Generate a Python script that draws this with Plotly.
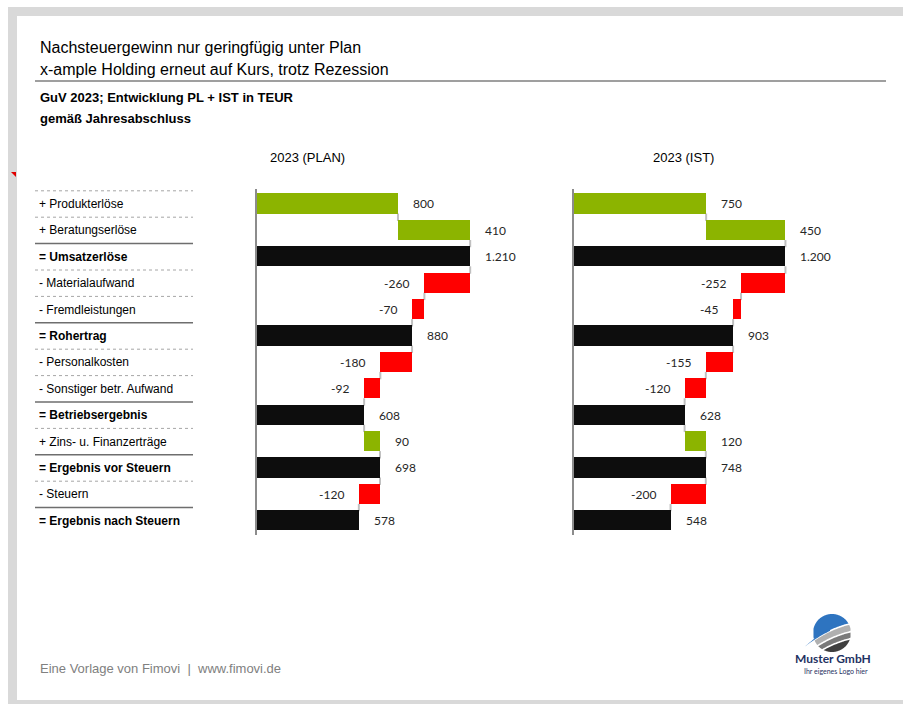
import numpy as np
import plotly.graph_objects as go

W, H = 903, 704

# ---- data -------------------------------------------------------------
row_labels = [
    "+ Produkterlöse", "+ Beratungserlöse", "= Umsatzerlöse",
    "- Materialaufwand", "- Fremdleistungen", "= Rohertrag",
    "- Personalkosten", "- Sonstiger betr. Aufwand", "= Betriebsergebnis",
    "+ Zins- u. Finanzerträge", "= Ergebnis vor Steuern", "- Steuern",
    "= Ergebnis nach Steuern",
]
row_kind = ["+", "+", "=", "-", "-", "=", "-", "-", "=", "+", "=", "-", "="]
plan_values = [800, 410, 1210, -260, -70, 880, -180, -92, 608, 90, 698, -120, 578]
ist_values = [750, 450, 1200, -252, -45, 903, -155, -120, 628, 120, 748, -200, 548]
panel_titles = ["2023 (PLAN)", "2023 (IST)"]

title_lines = ["Nachsteuergewinn nur geringfügig unter Plan",
               "x-ample Holding erneut auf Kurs, trotz Rezession"]
subtitle_lines = ["GuV 2023; Entwicklung PL + IST in TEUR", "gemäß Jahresabschluss"]
footer_text = "Eine Vorlage von Fimovi  |  www.fimovi.de"

# ---- styling ----------------------------------------------------------
GREEN, RED, BLACK = "#8cb400", "#ff0000", "#0d0d0d"
CONNECTOR = "#c0c0c0"
FRAME = "#d9d9d9"
ARIAL = "Liberation Sans, Arial, sans-serif"
NUMFONT = "Lato, Carlito, sans-serif"
BAR_W = 0.76
X_MAX = 1500


def px(x):
    return x / W


def py(y):
    return 1 - y / H


def fmt(v):
    return f"{v:,}".replace(",", ".")


def waterfall(values, kinds):
    bases, lengths, colors, ends = [], [], [], []
    running = 0
    for v, k in zip(values, kinds):
        if k == "=":
            bases.append(0)
            lengths.append(v)
            colors.append(BLACK)
            running = v
        else:
            bases.append(running)
            lengths.append(v)
            colors.append(GREEN if v >= 0 else RED)
            running += v
        ends.append(running)
    return bases, lengths, colors, ends


fig = go.Figure()
shapes, annotations = [], []
rows = list(range(len(row_labels)))

panels = [("x", "y", plan_values, 257), ("x2", "y2", ist_values, 574)]
scale = 0.1762  # pixels per TEUR
for (xa, ya, vals, x_left), ptitle in zip(panels, panel_titles):
    bases, lengths, colors, ends = waterfall(vals, row_kind)
    fig.add_trace(go.Bar(
        orientation="h", y=rows, x=lengths, base=bases, width=BAR_W,
        marker=dict(color=colors, line=dict(width=0)),
        xaxis=xa, yaxis=ya, hoverinfo="skip", showlegend=False,
    ))
    # connectors between consecutive bars
    for i in range(len(rows) - 1):
        shapes.append(dict(type="line", xref=xa, yref=ya,
                           x0=ends[i], x1=ends[i],
                           y0=i + BAR_W / 2 - 0.02, y1=i + 1 - BAR_W / 2 + 0.02,
                           line=dict(color=CONNECTOR, width=2), layer="below"))
    # value labels
    for i, (b, l, v) in enumerate(zip(bases, lengths, vals)):
        end = b + l
        if v < 0:
            annotations.append(dict(x=end, y=i, xref=xa, yref=ya, text=fmt(v),
                                    showarrow=False, xanchor="right", xshift=-13,
                                    font=dict(family=NUMFONT, size=12, color="#262626")))
        else:
            annotations.append(dict(x=end, y=i, xref=xa, yref=ya, text=fmt(v),
                                    showarrow=False, xanchor="left", xshift=13,
                                    font=dict(family=NUMFONT, size=12, color="#262626")))
    # panel heading
    annotations.append(dict(x=px(x_left + 50 if xa == "x" else x_left + 109), y=py(158),
                            xref="paper", yref="paper", text=ptitle, showarrow=False,
                            xanchor="center", yanchor="middle",
                            font=dict(family=ARIAL, size=13, color="#000000")))

# row labels and separator lines
for i, (lab, k) in enumerate(zip(row_labels, row_kind)):
    txt = f"<b>{lab}</b>" if k == "=" else lab
    annotations.append(dict(x=px(37), y=i, xref="paper", yref="y", text=txt,
                            showarrow=False, xanchor="left", yanchor="middle",
                            font=dict(family=ARIAL, size=12, color="#000000")))
    solid = k == "="
    shapes.append(dict(type="line", xref="paper", yref="y",
                       x0=px(35), x1=px(193), y0=i - 0.5, y1=i - 0.5,
                       line=dict(color="#6e6e6e" if solid else "#a6a6a6",
                                 width=1.5 if solid else 1,
                                 dash="solid" if solid else "dot")))

# titles
for t, yy in zip(title_lines, [47, 69]):
    annotations.append(dict(x=px(38), y=py(yy), xref="paper", yref="paper", text=t,
                            showarrow=False, xanchor="left", yanchor="middle",
                            font=dict(family=ARIAL, size=16, color="#000000")))
for t, yy in zip(subtitle_lines, [97, 118]):
    annotations.append(dict(x=px(38), y=py(yy), xref="paper", yref="paper",
                            text=f"<b>{t}</b>", showarrow=False, xanchor="left",
                            yanchor="middle",
                            font=dict(family=ARIAL, size=13, color="#000000")))
shapes.append(dict(type="line", xref="paper", yref="paper", x0=px(35), x1=px(886),
                   y0=py(81), y1=py(81), line=dict(color="#7f7f7f", width=1.5)))

# footer
annotations.append(dict(x=px(38), y=py(668), xref="paper", yref="paper", text=footer_text,
                        showarrow=False, xanchor="left", yanchor="middle",
                        font=dict(family=ARIAL, size=13, color="#808080")))

# page frame
for x0, x1, y0, y1 in [(8, W, 7, 16), (8, 17, 7, 701), (8, W, 700, H)]:
    shapes.append(dict(type="rect", xref="paper", yref="paper", x0=px(x0), x1=px(x1),
                       y0=py(y1), y1=py(y0), fillcolor=FRAME, line=dict(width=0),
                       layer="below"))
# small red corner marker
shapes.append(dict(type="path", xref="paper", yref="paper",
                   path=f"M {px(11)},{py(172)} L {px(16)},{py(172)} L {px(16)},{py(177)} Z",
                   fillcolor="#e00000", line=dict(width=0)))


# ---- logo -------------------------------------------------------------
def poly_path(pts):
    s = "M " + " L ".join(f"{px(x):.5f},{py(y):.5f}" for x, y in pts)
    return s + " Z"


cx, cy, r = 832, 633, 19


def sep(x, off):
    dx = x - cx
    return cy + off - 0.45 * dx + 0.006 * dx * dx


band_offsets = [(-40, -3, "#2e74c0"), (-3, 5, "#b0b0b0"), (5, 12, "#7a7a7a"), (12, 40, "#3f3f3f")]
xs = np.linspace(cx - r, cx + r, 80)
for lo, hi, col in band_offsets:
    top, bot = [], []
    for x in xs:
        h = np.sqrt(max(r * r - (x - cx) ** 2, 0))
        a = max(cy - h, sep(x, lo))
        b = min(cy + h, sep(x, hi))
        if a < b:
            top.append((x, a))
            bot.append((x, b))
    if len(top) > 2:
        shapes.append(dict(type="path", xref="paper", yref="paper",
                           path=poly_path(top + bot[::-1]), fillcolor=col,
                           line=dict(width=0)))
# white gaps between bands
for off in [-3, 5, 12]:
    xx = np.linspace(cx - r - 2, cx + r + 2, 40)
    pts = [(x, sep(x, off)) for x in xx]
    shapes.append(dict(type="path", xref="paper", yref="paper",
                       path="M " + " L ".join(f"{px(x):.5f},{py(y):.5f}" for x, y in pts),
                       line=dict(color="white", width=1.6)))
# swoosh tail on the left
tail_top = [(x, sep(x, -3) - 3.2 * (x - (cx - r - 8)) / (r + 8)) for x in np.linspace(cx - r - 8, cx - 2, 20)]
tail_bot = [(x, sep(x, -3) + 0.0) for x in np.linspace(cx - r - 8, cx - 2, 20)]
shapes.append(dict(type="path", xref="paper", yref="paper",
                   path=poly_path(tail_top + tail_bot[::-1]), fillcolor="#2e74c0",
                   line=dict(width=0)))
annotations.append(dict(x=px(833), y=py(658), xref="paper", yref="paper",
                        text="<b>Muster GmbH</b>", showarrow=False, xanchor="center",
                        yanchor="middle", font=dict(family="Lato, sans-serif", size=12,
                                                    color="#1f3262")))
annotations.append(dict(x=px(836), y=py(671), xref="paper", yref="paper",
                        text="Ihr eigenes Logo hier", showarrow=False, xanchor="center",
                        yanchor="middle", font=dict(family="Lato, sans-serif", size=7,
                                                    color="#1f3262")))

# ---- axes -------------------------------------------------------------
row_px = 26.4
y_top_px = 204 - 0.55 * row_px
y_bot_px = 204 + 12.55 * row_px
ydom = [py(y_bot_px), py(y_top_px)]
span_px = X_MAX * scale

axis_common = dict(range=[0, X_MAX], showgrid=False, zeroline=False, showline=False,
                   showticklabels=False, ticks="", fixedrange=True)
yaxis_common = dict(range=[12.55, -0.55], domain=ydom, showgrid=False, zeroline=False,
                    showline=True, linecolor="#8c8c8c", linewidth=2,
                    showticklabels=False, ticks="", fixedrange=True)

fig.update_layout(
    width=W, height=H, margin=dict(l=0, r=0, t=0, b=0),
    paper_bgcolor="white", plot_bgcolor="rgba(0,0,0,0)",
    showlegend=False, bargap=0,
    xaxis=dict(domain=[px(257), px(257 + span_px)], anchor="y", **axis_common),
    xaxis2=dict(domain=[px(574), px(574 + span_px)], anchor="y2", **axis_common),
    yaxis=dict(anchor="x", **yaxis_common),
    yaxis2=dict(anchor="x2", **yaxis_common),
    shapes=shapes, annotations=annotations,
)

fig.write_html("out.html")
